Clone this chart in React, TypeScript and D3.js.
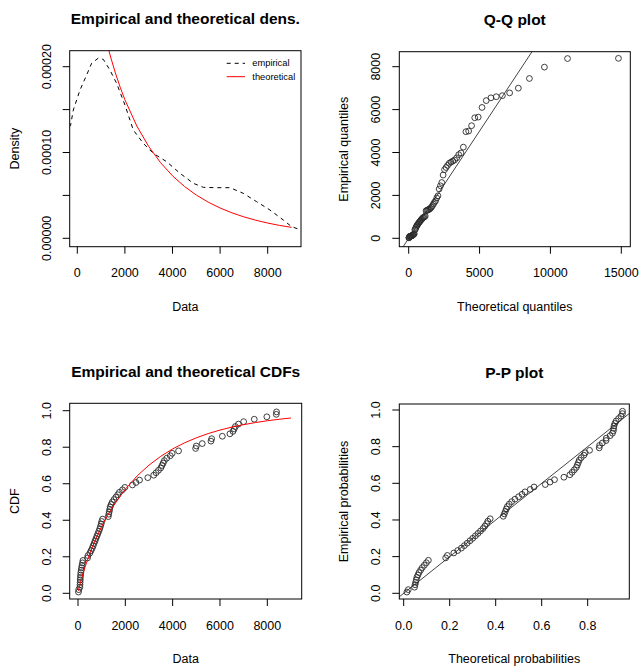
import * as d3 from "d3";

const sample = [
  20, 30, 80, 85, 90, 95, 100, 110, 120, 135, 150, 170, 190, 210, 400,
  420, 500, 550, 600, 640, 680, 720, 760, 800, 840, 880, 920, 950, 980, 1000,
  1040, 1280, 1300, 1320, 1340, 1360, 1400, 1450, 1520, 1600, 1680, 1750, 1880, 1980, 2300,
  2450, 2600, 2950, 3200, 3300, 3400, 3500, 3550, 3600, 3650, 3750, 3900, 3980, 4250, 4970,
  5000, 5250, 5620, 5650, 6100, 6420, 6550, 6600, 6650, 6780, 7000, 7450, 7980, 8380, 8390,
];

// theoretical quantiles for the Q-Q panel
const theoQuantiles = [
  9, 30, 54, 79, 106, 134, 163, 193, 224, 256, 289, 323, 358, 393, 430,
  468, 506, 546, 586, 628, 671, 715, 760, 806, 854, 902, 952, 1004, 1056, 1110,
  1166, 1223, 1282, 1342, 1404, 1469, 1535, 1603, 1673, 1746, 1821, 1899, 1979, 2063, 2149,
  2239, 2332, 2429, 2530, 2635, 2745, 2861, 2981, 3108, 3242, 3382, 3531, 3689, 3857, 4037,
  4229, 4436, 4660, 4905, 5173, 5470, 5802, 6177, 6609, 7121, 7737, 8517, 9575, 11207, 14799,
];

// theoretical probabilities for the P-P panel
const theoProbs = [
  0.0139, 0.0199, 0.047, 0.0495, 0.052, 0.0545, 0.057, 0.0619, 0.0667, 0.0737, 0.0807, 0.0898, 0.0986, 0.1073, 0.1825,
  0.1898, 0.2178, 0.2347, 0.251, 0.2637, 0.2761, 0.2882, 0.3, 0.3116, 0.3229, 0.3339, 0.3448, 0.3528, 0.3606, 0.3658,
  0.376, 0.4329, 0.4374, 0.4418, 0.4461, 0.4505, 0.459, 0.4695, 0.4837, 0.4994, 0.5145, 0.5274, 0.5501, 0.5667, 0.6155,
  0.6361, 0.6556, 0.6966, 0.7226, 0.7323, 0.7416, 0.7506, 0.755, 0.7592, 0.7634, 0.7716, 0.7833, 0.7892, 0.8081, 0.8501,
  0.8515, 0.8636, 0.8796, 0.8808, 0.8974, 0.9077, 0.9116, 0.913, 0.9144, 0.918, 0.9237, 0.9341, 0.9445, 0.9512, 0.9514,
];

// empirical (kernel) density, dashed
const kdeX = [-330, -280, -168, 112, 392, 602, 882, 1092, 1373, 1653, 2003, 2353, 2773, 3193, 3754, 4314, 4874, 5294, 5855, 6415, 6975, 7535, 8095, 8656, 9006, 9420];
const kdeY = [1.3, 1.32, 1.495, 1.728, 1.903, 2.04, 2.1, 2.086, 1.96, 1.806, 1.553, 1.262, 1.107, 0.99, 0.893, 0.758, 0.641, 0.594, 0.59, 0.59, 0.524, 0.427, 0.33, 0.213, 0.135, 0.095];

// theoretical density, red
const densX = [800, 1000, 1200, 1400, 1600, 1800, 2000, 2500, 3000, 3500, 4000, 4500, 5000, 5500, 6000, 6500, 7000, 7500, 8000, 8500, 9000];
const densY = [2.86, 2.57, 2.325, 2.113, 1.927, 1.762, 1.615, 1.309, 1.0705, 0.8808, 0.7284, 0.605, 0.5043, 0.4211, 0.3532, 0.2966, 0.2497, 0.2104, 0.1777, 0.1502, 0.1273];

// theoretical CDF, red
const cdfX = [20, 50, 100, 150, 200, 300, 400, 500, 750, 1000, 1250, 1500, 2000, 2500, 3000, 3500, 4000, 4500, 5000, 5500, 6000, 6500, 7000, 7500, 8000, 8500, 9000];
const cdfY = [0.0139, 0.0312, 0.057, 0.0807, 0.103, 0.1445, 0.1825, 0.2178, 0.2971, 0.3658, 0.4262, 0.4797, 0.57, 0.6428, 0.702, 0.7506, 0.7907, 0.8239, 0.8515, 0.8747, 0.8939, 0.9101, 0.9237, 0.9352, 0.9449, 0.9531, 0.96];

const densTicks = [0, 0.00005, 0.0001, 0.00015, 0.0002];
const densTickLabels = ["0.00000", "", "0.00010", "", "0.00020"];
const dataTicks = [0, 2000, 4000, 6000, 8000];
const qqXTicks = [0, 5000, 10000, 15000];
const probYTicks = [0, 0.2, 0.4, 0.6, 0.8, 1.0];
const probXTicks = [0, 0.2, 0.4, 0.6, 0.8];

const n = sample.length;
const empProbs = sample.map((_, i) => (i + 0.5) / n);

const FONT = "'Liberation Sans', Arial, sans-serif";

type Box = { x0: number; x1: number; y0: number; y1: number };

function Panel(props: {
  id: string;
  box: Box;
  x: d3.ScaleLinear<number, number>;
  y: d3.ScaleLinear<number, number>;
  xTicks: number[];
  yTicks: number[];
  xFmt: (d: number, i: number) => string;
  yFmt: (d: number, i: number) => string;
  title: string;
  xTitle: string;
  yTitle: string;
  children?: any;
}) {
  const { id, box, x, y, xTicks, yTicks, xFmt, yFmt, title, xTitle, yTitle } = props;
  const cx = (box.x0 + box.x1) / 2;
  const cy = (box.y0 + box.y1) / 2;
  const tl = 7;
  return (
    <g fontFamily={FONT} fill="#000">
      <defs>
        <clipPath id={id}>
          <rect x={box.x0} y={box.y0} width={box.x1 - box.x0} height={box.y1 - box.y0} />
        </clipPath>
      </defs>
      <g clipPath={`url(#${id})`}>{props.children}</g>
      <rect x={box.x0} y={box.y0} width={box.x1 - box.x0} height={box.y1 - box.y0} fill="none" stroke="#000" strokeWidth={1} />
      {xTicks.map((t, i) => (
        <g key={"x" + i}>
          <line x1={x(t)} x2={x(t)} y1={box.y1} y2={box.y1 + tl} stroke="#000" />
          <text x={x(t)} y={box.y1 + 26.5} textAnchor="middle" dominantBaseline="central" fontSize={12.5}>
            {xFmt(t, i)}
          </text>
        </g>
      ))}
      {yTicks.map((t, i) => (
        <g key={"y" + i}>
          <line x1={box.x0 - tl} x2={box.x0} y1={y(t)} y2={y(t)} stroke="#000" />
          <text
            transform={`translate(${box.x0 - 23},${y(t)}) rotate(-90)`}
            textAnchor="middle"
            dominantBaseline="central"
            fontSize={12.5}
          >
            {yFmt(t, i)}
          </text>
        </g>
      ))}
      <text x={cx} y={box.y0 - 32} textAnchor="middle" dominantBaseline="central" fontSize={15.5} fontWeight="bold">
        {title}
      </text>
      <text x={cx} y={box.y1 + 60} textAnchor="middle" dominantBaseline="central" fontSize={12.5}>
        {xTitle}
      </text>
      <text
        transform={`translate(${box.x0 - 55},${cy}) rotate(-90)`}
        textAnchor="middle"
        dominantBaseline="central"
        fontSize={12.5}
      >
        {yTitle}
      </text>
    </g>
  );
}

export default function App() {
  // panel boxes (pixels)
  const b1: Box = { x0: 69.7, x1: 301, y0: 50.7, y1: 246.7 };
  const b2: Box = { x0: 399.3, x1: 630.3, y0: 51.7, y1: 246.7 };
  const b3: Box = { x0: 69.7, x1: 301.7, y0: 403.3, y1: 599 };
  const b4: Box = { x0: 399.3, x1: 629.3, y0: 404, y1: 599 };

  const x1 = d3.scaleLinear().domain([0, 8000]).range([77.3, 267.7]);
  const y1 = d3.scaleLinear().domain([0, 0.0002]).range([238.3, 66.7]);
  const x2 = d3.scaleLinear().domain([0, 15000]).range([408.7, 621.3]);
  const y2 = d3.scaleLinear().domain([0, 8000]).range([238.3, 66.7]);
  const x3 = d3.scaleLinear().domain([0, 8000]).range([78, 267.3]);
  const y3 = d3.scaleLinear().domain([0, 1]).range([593.3, 410.7]);
  const x4 = d3.scaleLinear().domain([0, 0.8]).range([403.7, 587.7]);
  const y4 = d3.scaleLinear().domain([0, 1]).range([593.3, 410]);

  const kdeLine = d3
    .line<number>()
    .x((d) => x1(d))
    .y((_, i) => y1(kdeY[i] * 1e-4));
  const densLine = d3
    .line<number>()
    .x((d) => x1(d))
    .y((_, i) => y1(densY[i] * 1e-4));
  const cdfLine = d3
    .line<number>()
    .x((d) => x3(d))
    .y((_, i) => y3(cdfY[i]));

  const fmtInt = (d: number) => String(d);
  const fmt1 = (d: number) => d.toFixed(1);

  const r = 2.9;
  const ptStroke = "#2a2a2a";

  return (
    <svg width={644} height={670} style={{ display: "block", position: "absolute", left: 0, top: 0 }}>
      <rect width={644} height={670} fill="#fff" />

      <Panel
        id="c1"
        box={b1}
        x={x1}
        y={y1}
        xTicks={dataTicks}
        yTicks={densTicks}
        xFmt={fmtInt}
        yFmt={(_, i) => densTickLabels[i]}
        title="Empirical and theoretical dens."
        xTitle="Data"
        yTitle="Density"
      >
        <path d={kdeLine(kdeX) || ""} fill="none" stroke="#000" strokeWidth={1} strokeDasharray="4,4" />
        <path d={densLine(densX) || ""} fill="none" stroke="#ff0000" strokeWidth={1} />
      </Panel>
      <g fontFamily={FONT} fontSize={9.3}>
        <line x1={226.7} x2={245} y1={63.3} y2={63.3} stroke="#000" strokeDasharray="4,4" />
        <text x={252.3} y={63.3} dominantBaseline="central">empirical</text>
        <line x1={226.7} x2={245} y1={76.7} y2={76.7} stroke="#ff0000" />
        <text x={252.3} y={76.7} dominantBaseline="central">theoretical</text>
      </g>

      <Panel
        id="c2"
        box={b2}
        x={x2}
        y={y2}
        xTicks={qqXTicks}
        yTicks={dataTicks}
        xFmt={fmtInt}
        yFmt={fmtInt}
        title="Q-Q plot"
        xTitle="Theoretical quantiles"
        yTitle="Empirical quantiles"
      >
        <line x1={x2(-1000)} y1={y2(-1000)} x2={x2(10000)} y2={y2(10000)} stroke="#444" strokeWidth={1} />
        {sample.map((v, i) => (
          <circle key={i} cx={x2(theoQuantiles[i])} cy={y2(v)} r={r} fill="none" stroke={ptStroke} strokeWidth={0.9} />
        ))}
      </Panel>

      <Panel
        id="c3"
        box={b3}
        x={x3}
        y={y3}
        xTicks={dataTicks}
        yTicks={probYTicks}
        xFmt={fmtInt}
        yFmt={fmt1}
        title="Empirical and theoretical CDFs"
        xTitle="Data"
        yTitle="CDF"
      >
        {sample.map((v, i) => (
          <circle key={i} cx={x3(v)} cy={y3(empProbs[i])} r={r} fill="none" stroke={ptStroke} strokeWidth={0.9} />
        ))}
        <path d={cdfLine(cdfX) || ""} fill="none" stroke="#ff0000" strokeWidth={1} />
      </Panel>

      <Panel
        id="c4"
        box={b4}
        x={x4}
        y={y4}
        xTicks={probXTicks}
        yTicks={probYTicks}
        xFmt={fmt1}
        yFmt={fmt1}
        title="P-P plot"
        xTitle="Theoretical probabilities"
        yTitle="Empirical probabilities"
      >
        <line x1={x4(-0.1)} y1={y4(-0.1)} x2={x4(1.1)} y2={y4(1.1)} stroke="#444" strokeWidth={1} />
        {sample.map((_, i) => (
          <circle key={i} cx={x4(theoProbs[i])} cy={y4(empProbs[i])} r={r} fill="none" stroke={ptStroke} strokeWidth={0.9} />
        ))}
      </Panel>
    </svg>
  );
}
